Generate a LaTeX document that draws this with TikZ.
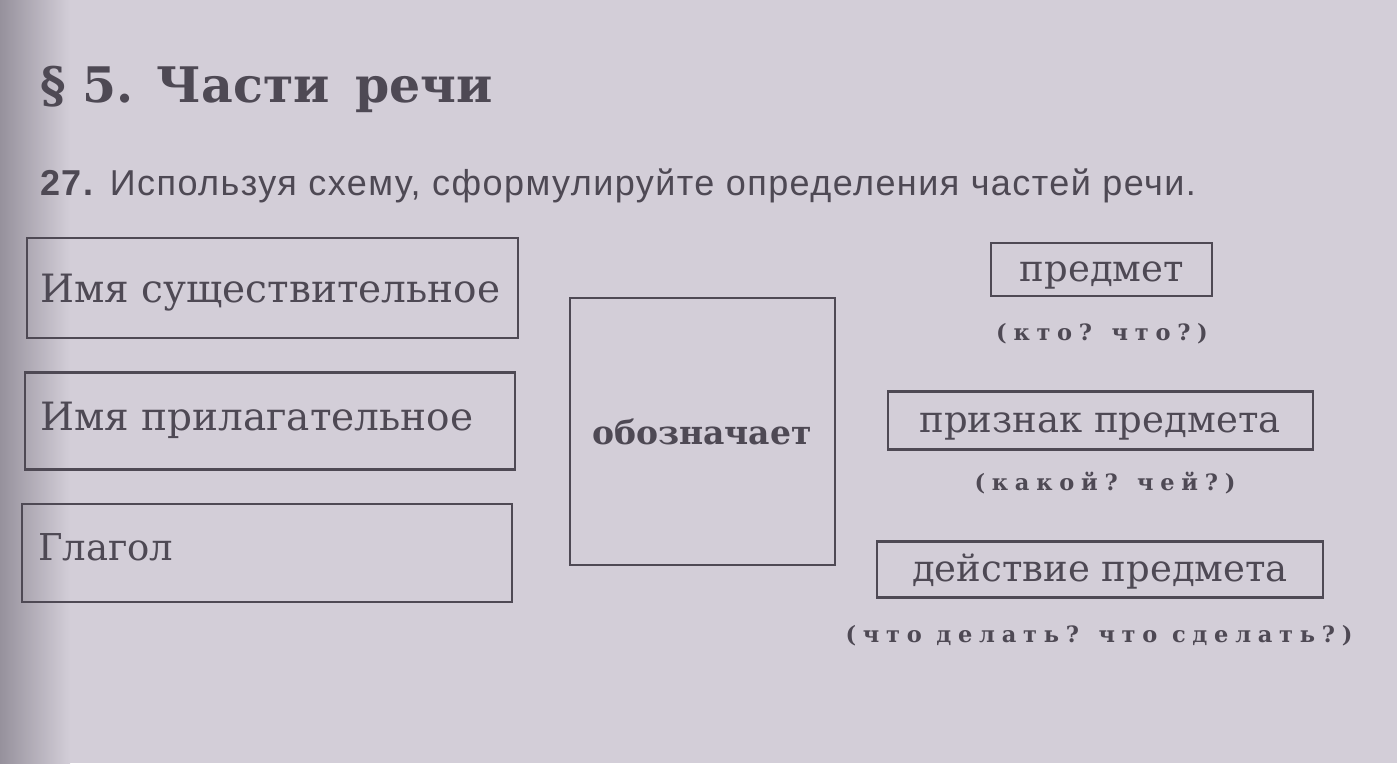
\documentclass[tikz,border=0pt]{standalone}
\usepackage{fontspec}
\setmainfont{DejaVu Serif}
\newfontfamily\boxfont{DejaVu Serif}
\newfontfamily\titlefont{DejaVu Serif}
\newfontfamily\taskfont[LetterSpace=4]{Liberation Sans}
\newfontfamily\spacedfont[LetterSpace=30]{DejaVu Serif}
\definecolor{paper}{RGB}{211,206,216}
\definecolor{ink}{RGB}{78,73,84}
\definecolor{shadow}{RGB}{150,145,156}
\begin{document}
\begin{tikzpicture}[x=1pt,y=-1pt,
  frame/.style={draw=ink, line width=2.6pt, inner sep=0pt},
  lbl/.style={text=ink, inner sep=0pt, font=\boxfont\fontsize{37}{40}\selectfont},
  biglbl/.style={text=ink, inner sep=0pt, font=\boxfont\fontsize{39}{42}\selectfont},
  sub/.style={text=ink, inner sep=0pt, font=\spacedfont\bfseries\fontsize{22.5}{25}\selectfont}]
\useasboundingbox (0,0) rectangle (1397,763);
\fill[paper] (0,0) rectangle (1397,763);
\shade[left color=shadow, right color=paper] (0,0) rectangle (70,763);
% title
\node[anchor=base west, text=ink, inner sep=0pt, font=\titlefont\bfseries\fontsize{49}{53}\selectfont] (title) at (40,102) {§ 5. Части\, речи};
\node[anchor=base west, text=ink, inner sep=0pt, font=\taskfont\fontsize{36}{39}\selectfont] (task) at (40,195) {\textbf{27.} Используя схему, сформулируйте определения частей речи.};
% left boxes
\node[frame, minimum width=491pt, minimum height=100pt] (b1) at (272.5,288) {};
\node[frame, minimum width=490pt, minimum height=97pt] (b2) at (270,421) {};
\node[frame, minimum width=490pt, minimum height=98pt] (b3) at (267,553) {};
\node[biglbl, anchor=base west] (t1) at (40,302) {Имя существительное};
\node[biglbl, anchor=base west] (t2) at (40,430) {Имя прилагательное};
\node[lbl, anchor=base west] (t3) at (38,560) {Глагол};
% middle box
\node[frame, minimum width=265pt, minimum height=267pt] (mid) at (702.5,431.5) {};
\node[lbl, font=\boxfont\bfseries\fontsize{33}{36}\selectfont] (tm) at (702,432) {обозначает};
% right boxes
\node[frame, minimum width=221pt, minimum height=53pt] (r1) at (1101.5,269.5) {};
\node[lbl, anchor=base] (tr1) at (1102,281) {предмет};
\node[sub, anchor=base] (s1) at (1102,340) {(кто? что?)};
\node[frame, minimum width=425pt, minimum height=58pt] (r2) at (1100.5,420.5) {};
\node[lbl, anchor=base] (tr2) at (1100,432) {признак предмета};
\node[sub, anchor=base] (s2) at (1105,490) {(какой? чей?)};
\node[frame, minimum width=446pt, minimum height=56pt] (r3) at (1100,569.5) {};
\node[lbl, anchor=base] (tr3) at (1100,581) {действие предмета};
\node[sub, anchor=base] (s3) at (1099,642) {(что делать? что сделать?)};
\end{tikzpicture}
\end{document}
